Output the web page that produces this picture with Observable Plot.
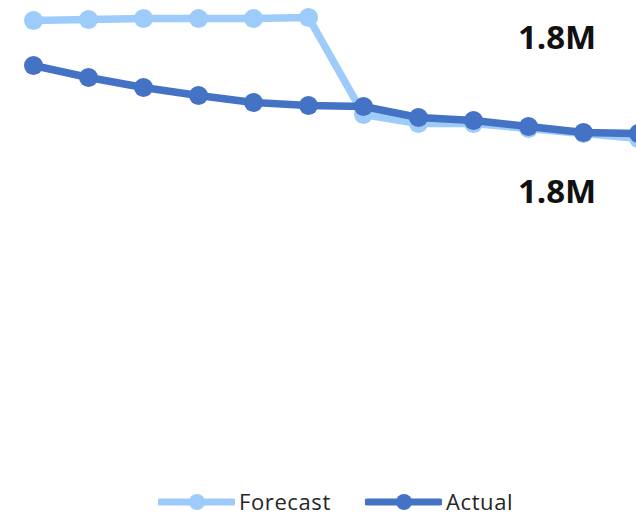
<!DOCTYPE html>
<html>
<head>
<meta charset="utf-8">
<script src="https://cdn.jsdelivr.net/npm/d3@7"></script>
<script src="https://cdn.jsdelivr.net/npm/@observablehq/plot@0.6"></script>
<style>
  html, body { margin: 0; padding: 0; background: #fff; }
  #wrap { position: relative; width: 636px; height: 515px; overflow: hidden; background: #fff; }
  #legend { position: absolute; top: 488px; left: 0; width: 636px; height: 27px; font-family: "Open Sans", sans-serif; font-size: 22px; line-height: 27px; color: #262626; }
  .item { position: absolute; top: 0; display: flex; align-items: center; height: 27px; }
  .item svg { display: block; }
  .item span { margin-left: 4px; letter-spacing: 0.6px; line-height: 27px; }
</style>
</head>
<body>
<div id="wrap"><div id="chart"></div><div id="legend"></div></div>
<script>
const periods = [1, 2, 3, 4, 5, 6, 7, 8, 9, 10, 11, 12];
const forecast = [1.897, 1.898, 1.899, 1.899, 1.899, 1.900, 1.803, 1.794, 1.794, 1.789, 1.784, 1.779];
const actual   = [1.852, 1.840, 1.830, 1.822, 1.815, 1.812, 1.811, 1.800, 1.797, 1.791, 1.785, 1.784];
const seriesNames = ["Forecast", "Actual"];
const seriesColors = ["#9DCBFA", "#4472C4"];
const labelText = ["1.8M", "1.8M"];
const labelPeriod = [10.52, 10.52];
const labelValue = [1.879, 1.725];

const rows = [];
periods.forEach((p, i) => {
  rows.push({period: p, value: forecast[i], series: "Forecast"});
  rows.push({period: p, value: actual[i], series: "Actual"});
});
const labels = labelText.map((t, i) => ({text: t, period: labelPeriod[i], value: labelValue[i]}));

const chart = Plot.plot({
  width: 636,
  height: 480,
  margin: 0,
  style: {background: "#fff", overflow: "hidden"},
  x: {domain: [1, 12], range: [33, 638], axis: null},
  y: {domain: [1.437, 1.917], axis: null},
  color: {domain: seriesNames, range: seriesColors},
  marks: [
    Plot.line(rows.filter(d => d.series === "Forecast"), {x: "period", y: "value", stroke: "series", strokeWidth: 7.5, strokeLinejoin: "round"}),
    Plot.dot(rows.filter(d => d.series === "Forecast"), {x: "period", y: "value", fill: "series", r: 9.5, stroke: null}),
    Plot.line(rows.filter(d => d.series === "Actual"), {x: "period", y: "value", stroke: "series", strokeWidth: 7.5, strokeLinejoin: "round"}),
    Plot.dot(rows.filter(d => d.series === "Actual"), {x: "period", y: "value", fill: "series", r: 9.5, stroke: null}),
    Plot.text(labels, {x: "period", y: "value", text: "text", fontSize: 33, fontWeight: "bold", fontFamily: "Open Sans", fill: "#111", textAnchor: "middle"})
  ]
});
document.getElementById("chart").appendChild(chart);

// Legend
const legend = d3.select("#legend");
const legendLeft = [158, 365];
seriesNames.forEach((name, i) => {
  const item = legend.append("div").attr("class", "item").style("left", legendLeft[i] + "px");
  const s = item.append("svg").attr("width", 77).attr("height", 27);
  s.append("line").attr("x1", 2).attr("x2", 75).attr("y1", 14).attr("y2", 14)
    .attr("stroke", seriesColors[i]).attr("stroke-width", 7).attr("stroke-linecap", "round");
  s.append("circle").attr("cx", 39).attr("cy", 14).attr("r", 8).attr("fill", seriesColors[i]);
  item.append("span").text(name);
});
</script>
</body>
</html>
